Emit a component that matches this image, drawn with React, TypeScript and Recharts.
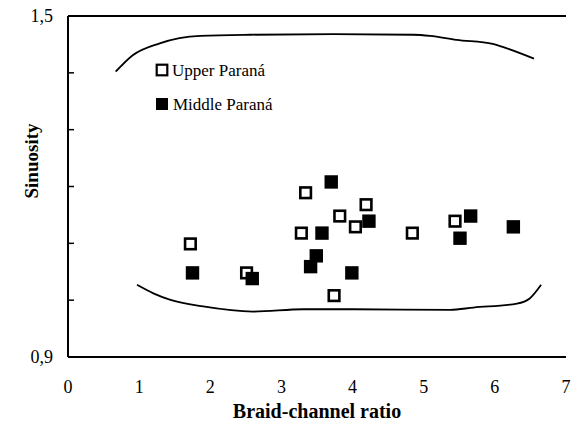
import React from 'react';
import { ComposedChart, Scatter, Line, XAxis, YAxis, ReferenceLine, Label, Customized } from 'recharts';

const upperParana = [
  { x: 1.72, y: 1.099 }, { x: 2.51, y: 1.048 }, { x: 3.34, y: 1.189 }, { x: 3.82, y: 1.148 },
  { x: 4.19, y: 1.168 }, { x: 4.04, y: 1.129 }, { x: 3.28, y: 1.118 }, { x: 3.74, y: 1.008 },
  { x: 4.84, y: 1.118 }, { x: 5.44, y: 1.139 },
];
const middleParana = [
  { x: 1.75, y: 1.048 }, { x: 2.59, y: 1.038 }, { x: 3.70, y: 1.208 }, { x: 4.23, y: 1.139 },
  { x: 3.57, y: 1.118 }, { x: 3.49, y: 1.078 }, { x: 3.41, y: 1.059 }, { x: 3.99, y: 1.048 },
  { x: 5.66, y: 1.148 }, { x: 5.51, y: 1.109 }, { x: 6.26, y: 1.129 },
];
const upperEnvelope = [
  { x: 0.67, y: 1.402 }, { x: 0.91, y: 1.431 }, { x: 1.29, y: 1.452 }, { x: 1.86, y: 1.465 },
  { x: 2.56, y: 1.467 }, { x: 3.73, y: 1.468 }, { x: 4.85, y: 1.467 }, { x: 5.09, y: 1.465 },
  { x: 5.46, y: 1.458 }, { x: 5.97, y: 1.451 }, { x: 6.17, y: 1.443 }, { x: 6.55, y: 1.425 },
];
const lowerEnvelope = [
  { x: 0.97, y: 1.027 }, { x: 1.2, y: 1.012 }, { x: 1.43, y: 1.001 }, { x: 1.9, y: 0.989 },
  { x: 2.6, y: 0.98 }, { x: 3.31, y: 0.984 }, { x: 4.01, y: 0.984 }, { x: 5.37, y: 0.983 },
  { x: 5.7, y: 0.987 }, { x: 6.31, y: 0.994 }, { x: 6.49, y: 1.003 }, { x: 6.65, y: 1.027 },
];
const xTicks = [0, 1, 2, 3, 4, 5, 6, 7];
const yTicks = [0.9, 1.0, 1.1, 1.2, 1.3, 1.4, 1.5];
const yLabelledTicks = [0.9, 1.5];
const seriesNames = ['Upper Paraná', 'Middle Paraná'];
const xTitle = 'Braid-channel ratio';
const yTitle = 'Sinuosity';

const FONT = 'Liberation Serif, Tinos, DejaVu Serif, serif';

const OpenSquare = (props: any) => {
  const { cx, cy } = props;
  if (cx == null || cy == null) return null;
  return <rect x={cx - 5.3} y={cy - 5.3} width={10.6} height={10.6} fill="#fff" stroke="#000" strokeWidth={2.6} />;
};
const FilledSquare = (props: any) => {
  const { cx, cy } = props;
  if (cx == null || cy == null) return null;
  return <rect x={cx - 6.7} y={cy - 6.7} width={13.4} height={13.4} fill="#000" />;
};

const YTick = (props: any) => {
  const { x, y, payload } = props;
  const v = payload.value;
  const show = yLabelledTicks.some((t) => Math.abs(t - v) < 1e-6);
  return (
    <g>
      <line x1={x} x2={x + 6} y1={y} y2={y} stroke="#000" strokeWidth={1.5} />
      {show && (
        <text x={x - 15} y={y} dy="0.35em" textAnchor="end" fontFamily={FONT} fontSize={18} fill="#000">
          {v.toFixed(1).replace('.', ',')}
        </text>
      )}
    </g>
  );
};

const XTick = (props: any) => {
  const { x, y, payload } = props;
  return (
    <text x={x} y={y} dy="0.71em" textAnchor="middle" fontFamily={FONT} fontSize={18} fill="#000">
      {String(payload.value)}
    </text>
  );
};

const LegendBox = () => (
  <g fontFamily={FONT} fontSize={17} fill="#000">
    <rect x={156.7} y={64.7} width={10.6} height={10.6} fill="#fff" stroke="#000" strokeWidth={2.2} />
    <text x={172} y={70} dy="0.35em" fontFamily={FONT}>{seriesNames[0]}</text>
    <rect x={156} y={98} width={12} height={12} fill="#000" />
    <text x={173} y={104} dy="0.35em" fontFamily={FONT}>{seriesNames[1]}</text>
  </g>
);

export default function App() {
  return (
    <div style={{ position: 'absolute', left: 0, top: 0, fontFamily: FONT }}>
      <ComposedChart width={581} height={432} margin={{ top: 16, right: 15, bottom: 35, left: 0 }}>
        <XAxis
          type="number"
          dataKey="x"
          domain={[0, 7]}
          ticks={xTicks}
          interval={0}
          tickLine={false}
          tickSize={0}
          tickMargin={23}
          axisLine={{ stroke: '#000', strokeWidth: 2 }}
          tick={<XTick />}
          height={40}
          allowDataOverflow
        >
          <Label
            content={(p: any) => {
              const vb = p.viewBox;
              return (
                <text x={vb.x + vb.width / 2} y={vb.y + 61} textAnchor="middle" fontFamily={FONT} fontWeight="bold" fontSize={20} fill="#000">
                  {xTitle}
                </text>
              );
            }}
          />
        </XAxis>
        <YAxis
          type="number"
          dataKey="y"
          domain={[0.9, 1.5]}
          ticks={yTicks}
          interval={0}
          tickLine={false}
          tickSize={0}
          tickMargin={0}
          width={68}
          axisLine={{ stroke: '#000', strokeWidth: 2 }}
          tick={<YTick />}
          allowDataOverflow
        >
          <Label
            content={() => (
              <text x={31} y={161} textAnchor="middle" dominantBaseline="central" transform="rotate(-90, 31, 161)" fontFamily={FONT} fontWeight="bold" fontSize={19} fill="#000">
                {yTitle}
              </text>
            )}
          />
        </YAxis>
        <ReferenceLine y={1.5} stroke="#000" strokeWidth={2} />
        <Line data={upperEnvelope} dataKey="y" type="monotone" stroke="#000" strokeWidth={1.8} dot={false} activeDot={false} isAnimationActive={false} />
        <Line data={lowerEnvelope} dataKey="y" type="monotone" stroke="#000" strokeWidth={1.8} dot={false} activeDot={false} isAnimationActive={false} />
        <Scatter name={seriesNames[0]} data={upperParana} shape={<OpenSquare />} isAnimationActive={false} />
        <Scatter name={seriesNames[1]} data={middleParana} shape={<FilledSquare />} isAnimationActive={false} />
        <Customized component={<LegendBox />} />
      </ComposedChart>
    </div>
  );
}
